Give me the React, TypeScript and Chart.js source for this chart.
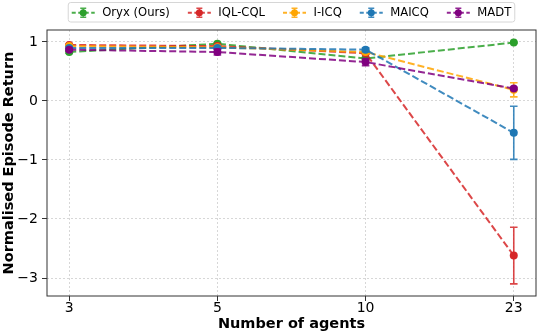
import React, { useEffect, useRef } from "react";
import { Chart, registerables } from "chart.js";

Chart.register(...registerables);

const agents = ["3", "5", "10", "23"];
const seriesNames = ["Oryx (Ours)", "IQL-CQL", "I-ICQ", "MAICQ", "MADT"];
const seriesColors = ["#2ca02c", "#d62728", "#ffa500", "#1f77b4", "#800080"];
const oryx = [0.83, 0.97, 0.72, 0.99];
const oryxErr = [0.02, 0.02, 0.02, 0.01];
const iqlCql = [0.95, 0.93, 0.81, -2.62];
const iqlCqlErr = [0.02, 0.02, 0.02, 0.48];
const iIcq = [0.93, 0.91, 0.83, 0.19];
const iIcqErr = [0.02, 0.02, 0.03, 0.12];
const maicq = [0.9, 0.9, 0.87, -0.54];
const maicqErr = [0.02, 0.02, 0.03, 0.45];
const madt = [0.87, 0.83, 0.66, 0.21];
const madtErr = [0.02, 0.05, 0.06, 0.02];
const yTicks = [-3, -2, -1, 0, 1];

const allValues = [oryx, iqlCql, iIcq, maicq, madt];
const allErrors = [oryxErr, iqlCqlErr, iIcqErr, maicqErr, madtErr];

const FONT = "'DejaVu Sans', sans-serif";
const DASH = [7, 3];

function withAlpha(hex: string, a: number) {
  const r = parseInt(hex.slice(1, 3), 16);
  const g = parseInt(hex.slice(3, 5), 16);
  const b = parseInt(hex.slice(5, 7), 16);
  return `rgba(${r},${g},${b},${a})`;
}

const errorBarPlugin = {
  id: "errbars",
  afterDatasetDraw(chart: any, args: any) {
    const ds = chart.data.datasets[args.index];
    const errs: number[] = ds.errors;
    if (!errs) return;
    const ctx = chart.ctx;
    const ys = chart.scales.y;
    ctx.save();
    ctx.strokeStyle = ds.errColor;
    ctx.lineWidth = 1.6;
    ctx.setLineDash([]);
    args.meta.data.forEach((pt: any, i: number) => {
      const v = ds.data[i].y;
      const e = errs[i];
      const yt = ys.getPixelForValue(v + e);
      const yb = ys.getPixelForValue(v - e);
      const x = pt.x;
      ctx.beginPath();
      ctx.moveTo(x, yt);
      ctx.lineTo(x, yb);
      ctx.moveTo(x - 3.8, yt);
      ctx.lineTo(x + 3.8, yt);
      ctx.moveTo(x - 3.8, yb);
      ctx.lineTo(x + 3.8, yb);
      ctx.stroke();
    });
    ctx.restore();
  },
};

const framePlugin = {
  id: "frame",
  afterDraw(chart: any) {
    const { ctx, chartArea: a } = chart;
    ctx.save();
    ctx.strokeStyle = "#333";
    ctx.lineWidth = 1;
    ctx.setLineDash([]);
    ctx.strokeRect(a.left, a.top, a.right - a.left, a.bottom - a.top);
    ctx.restore();
  },
};

const legendPlugin = {
  id: "customLegend",
  afterDraw(chart: any) {
    const ctx = chart.ctx;
    const a = chart.chartArea;
    ctx.save();
    ctx.font = `11.6px ${FONT}`;
    const handle = 23;
    const textPad = 7.5;
    const colGap = 18;
    const border = 3.5;
    const widths = seriesNames.map((n) => ctx.measureText(n).width);
    const total =
      widths.reduce((s, w) => s + w, 0) +
      seriesNames.length * (handle + textPad) +
      (seriesNames.length - 1) * colGap +
      2 * border;
    const cx = (a.left + a.right) / 2;
    const left = cx - total / 2;
    const top = 2.5;
    const h = 19.5;
    ctx.beginPath();
    const r = 2.5;
    ctx.moveTo(left + r, top);
    ctx.lineTo(left + total - r, top);
    ctx.quadraticCurveTo(left + total, top, left + total, top + r);
    ctx.lineTo(left + total, top + h - r);
    ctx.quadraticCurveTo(left + total, top + h, left + total - r, top + h);
    ctx.lineTo(left + r, top + h);
    ctx.quadraticCurveTo(left, top + h, left, top + h - r);
    ctx.lineTo(left, top + r);
    ctx.quadraticCurveTo(left, top, left + r, top);
    ctx.closePath();
    ctx.fillStyle = "rgba(255,255,255,0.8)";
    ctx.fill();
    ctx.strokeStyle = "#d6d6d6";
    ctx.lineWidth = 1;
    ctx.stroke();
    const cy = top + h / 2 + 0.5;
    let x = left + border;
    seriesNames.forEach((name, i) => {
      const c = seriesColors[i];
      ctx.strokeStyle = withAlpha(c, 0.85);
      ctx.lineWidth = 1.8;
      ctx.setLineDash([4, 2.5]);
      ctx.beginPath();
      ctx.moveTo(x, cy);
      ctx.lineTo(x + handle, cy);
      ctx.stroke();
      ctx.setLineDash([]);
      const mx = x + handle / 2;
      ctx.strokeStyle = withAlpha(c, 0.85);
      ctx.lineWidth = 1.3;
      ctx.beginPath();
      ctx.moveTo(mx, cy - 4.5);
      ctx.lineTo(mx, cy + 4.5);
      ctx.moveTo(mx - 3, cy - 4.5);
      ctx.lineTo(mx + 3, cy - 4.5);
      ctx.moveTo(mx - 3, cy + 4.5);
      ctx.lineTo(mx + 3, cy + 4.5);
      ctx.stroke();
      ctx.fillStyle = c;
      ctx.beginPath();
      ctx.arc(mx, cy, 3.5, 0, Math.PI * 2);
      ctx.fill();
      ctx.fillStyle = "#000";
      ctx.textBaseline = "middle";
      ctx.textAlign = "left";
      ctx.fillText(name, x + handle + textPad, cy);
      x += handle + textPad + widths[i] + colGap;
    });
    ctx.restore();
  },
};

export default function App() {
  const ref = useRef<HTMLCanvasElement>(null);
  useEffect(() => {
    if (!ref.current) return;
    const datasets = seriesNames.map((name, i) => ({
      label: name,
      data: allValues[i].map((v, j) => ({ x: j, y: v })),
      errors: allErrors[i],
      errColor: withAlpha(seriesColors[i], 0.85),
      borderColor: withAlpha(seriesColors[i], 0.85),
      backgroundColor: seriesColors[i],
      pointBackgroundColor: seriesColors[i],
      pointBorderColor: seriesColors[i],
      pointRadius: 4,
      pointBorderWidth: 0,
      borderWidth: 2,
      borderDash: DASH,
      fill: false,
      tension: 0,
      order: seriesNames.length - i,
    }));
    const chart = new Chart(ref.current, {
      type: "line",
      data: { datasets } as any,
      plugins: [errorBarPlugin, framePlugin, legendPlugin],
      options: {
        animation: false,
        responsive: false,
        devicePixelRatio: 1,
        layout: { padding: { left: 0, top: 30, right: 2.5, bottom: 0 } },
        plugins: { legend: { display: false }, tooltip: { enabled: false } },
        scales: {
          x: {
            type: "linear",
            min: -0.15,
            max: 3.15,
            afterBuildTicks: (s: any) => {
              s.ticks = agents.map((_, i) => ({ value: i }));
            },
            afterFit: (s: any) => {
              s.height = 40;
            },
            ticks: {
              callback: (v: any) => agents[v as number] ?? "",
              font: { family: FONT, size: 14 },
              color: "#000",
              padding: -1,
              maxRotation: 0,
              autoSkip: false,
            },
            grid: {
              color: "rgba(0,0,0,0.2)",
              lineWidth: 0.8,
              tickLength: 5,
              tickColor: "#333",
              tickWidth: 1,
            },
            border: { display: false, dash: [2, 2] },
            title: {
              display: true,
              text: "Number of agents",
              font: { family: FONT, size: 14.5, weight: "bold" },
              color: "#000",
              padding: { top: 0, bottom: 3.5 },
            },
          },
          y: {
            type: "linear",
            min: -3.305,
            max: 1.203,
            afterBuildTicks: (s: any) => {
              s.ticks = yTicks.map((v) => ({ value: v }));
            },
            afterFit: (s: any) => {
              s.width = 47;
            },
            ticks: {
              callback: (v: any) => String(v).replace("-", "\u2212"),
              font: { family: FONT, size: 14 },
              color: "#000",
              padding: 4,
            },
            grid: {
              color: "rgba(0,0,0,0.2)",
              lineWidth: 0.8,
              tickLength: 5,
              tickColor: "#333",
              tickWidth: 1,
            },
            border: { display: false, dash: [2, 2] },
            title: {
              display: true,
              text: "Normalised Episode Return",
              font: { family: FONT, size: 14.5, weight: "bold" },
              color: "#000",
              padding: { top: 1, bottom: 0 },
            },
          },
        },
      } as any,
    });
    return () => chart.destroy();
  }, []);
  return (
    <div style={{ position: "fixed", left: 0, top: 0, width: 540, height: 336, background: "#fff" }}>
      <canvas ref={ref} width={540} height={336} style={{ width: 540, height: 336, display: "block" }} />
    </div>
  );
}
